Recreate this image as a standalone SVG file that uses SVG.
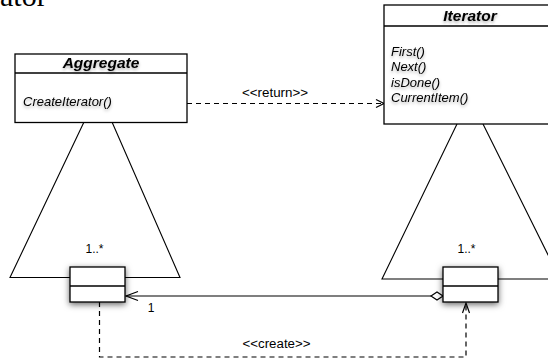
<svg xmlns="http://www.w3.org/2000/svg" width="548" height="362" viewBox="0 0 548 362">
  <style>
    .box { fill: #fff; stroke: #000; stroke-width: 1.3; }
    .sep { stroke: #000; stroke-width: 1.3; }
    .tri { fill: none; stroke: #000; stroke-width: 1.1; }
    .line { fill: none; stroke: #000; stroke-width: 1.2; }
    .dash { fill: none; stroke: #000; stroke-width: 1.2; stroke-dasharray: 5 4; }
    .title { font-family: "Liberation Sans", Arial, sans-serif; font-size: 15.5px; font-weight: bold; font-style: italic; fill: #000; }
    .op { font-family: "Liberation Sans", Arial, sans-serif; font-size: 13px; font-style: italic; fill: #000; }
    .lbl { font-family: "Liberation Sans", Arial, sans-serif; font-size: 12px; fill: #000; }
    .cap { font-family: "Liberation Serif", "Times New Roman", serif; font-size: 30px; fill: #000; }
  </style>
  <defs>
    <filter id="boxShadow" x="-50%" y="-50%" width="200%" height="200%">
      <feDropShadow dx="0" dy="2" stdDeviation="3" flood-color="#000" flood-opacity="0.6"/>
    </filter>
    <filter id="textShadow" x="-10%" y="-50%" width="120%" height="200%">
      <feDropShadow dx="0" dy="2" stdDeviation="1.5" flood-color="#000" flood-opacity="0.3"/>
    </filter>
  </defs>

  <!-- heading text running off the top edge -->
  <text class="cap" x="0" y="6">ator</text>

  <!-- composition triangles behind the class boxes -->
  <g id="triangles">
    <path class="tri" d="M84,122 L10,277.5 L180,277.5 L112,122"/>
    <path class="tri" d="M457,124 L382,279 L560,279 L483,124"/>
  </g>

  <g id="connectors">
    <!-- <<return>> dependency -->
    <path class="dash" d="M187,103.5 H383"/>
    <path class="line" d="M376,99.5 L384,103.5 L376,107.5"/>
    <text class="lbl" x="275" y="97" text-anchor="middle" textLength="66" lengthAdjust="spacingAndGlyphs">&lt;&lt;return&gt;&gt;</text>

    <!-- aggregation: concrete iterator to concrete aggregate -->
    <path class="line" d="M431,296 H126"/>
    <path class="line" d="M138,291.5 L126,296 L138,300.5"/>
    <polygon points="443,296 437,292 431,296 437,300" fill="#fff" stroke="#000" stroke-width="1.2"/>
    <text class="lbl" x="151" y="311.5" text-anchor="middle">1</text>

    <!-- <<create>> dependency -->
    <path class="dash" d="M99.5,302 V357 H466 V304"/>
    <path class="line" d="M462.5,313 L466,303 L469.5,313"/>
    <text class="lbl" x="276.5" y="348" text-anchor="middle" textLength="68" lengthAdjust="spacingAndGlyphs">&lt;&lt;create&gt;&gt;</text>
  </g>

  <g id="aggregate">
    <rect class="box" x="15" y="54" width="172" height="68.5"/>
    <line class="sep" x1="15" y1="73" x2="187" y2="73"/>
    <text class="title" x="101" y="68" text-anchor="middle" filter="url(#textShadow)">Aggregate</text>
    <text class="op" x="23" y="105.5" filter="url(#textShadow)">CreateIterator()</text>
  </g>

  <g id="iterator">
    <rect class="box" x="384" y="5" width="172" height="119"/>
    <line class="sep" x1="384" y1="26" x2="556" y2="26"/>
    <text class="title" x="470" y="21" text-anchor="middle" filter="url(#textShadow)">Iterator</text>
    <g class="op" filter="url(#textShadow)">
      <text x="391" y="55.5">First()</text>
      <text x="391" y="71">Next()</text>
      <text x="391" y="86.5">isDone()</text>
      <text x="391" y="102">CurrentItem()</text>
    </g>
  </g>

  <g id="concrete-aggregate">
    <text class="lbl" x="94.5" y="252.5" text-anchor="middle">1..*</text>
    <rect class="box" x="70" y="267" width="55" height="35" filter="url(#boxShadow)"/>
    <line class="sep" x1="70" y1="286" x2="125" y2="286"/>
  </g>

  <g id="concrete-iterator">
    <text class="lbl" x="466.5" y="252.5" text-anchor="middle">1..*</text>
    <rect class="box" x="443" y="267" width="55" height="35" filter="url(#boxShadow)"/>
    <line class="sep" x1="443" y1="286" x2="498" y2="286"/>
  </g>
</svg>
